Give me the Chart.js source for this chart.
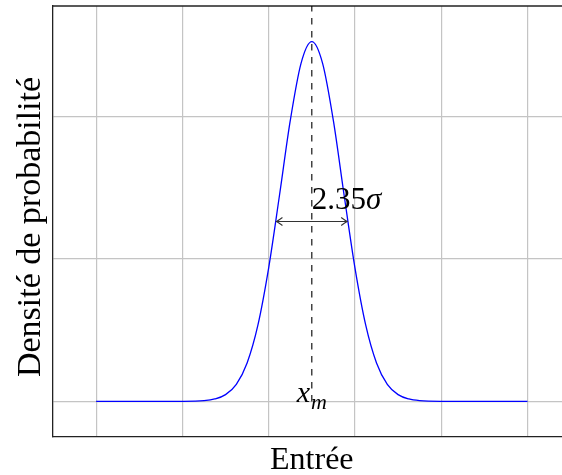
<!DOCTYPE html>
<html>
<head>
    <meta charset="utf-8">
    <title>Densité de probabilité</title>
    <script src="https://cdn.jsdelivr.net/npm/chart.js"></script>
</head>
<style>
    html, body { margin: 0; padding: 0; background: #fff; overflow: hidden; }
    canvas { display: block; }
</style>
<body>
    <canvas id="densityChart" width="562" height="475"></canvas>
    <script>
        // values
        const xValues = [-5, -4, -3, -2.5, -2.25, -2, -1.75, -1.5, -1.25, -1, -0.75, -0.5, -0.25,
                         0, 0.25, 0.5, 0.75, 1, 1.25, 1.5, 1.75, 2, 2.25, 2.5, 3, 4, 5];
        const densityValues = [0, 0, 0.0001, 0.002, 0.0067, 0.019, 0.048, 0.108, 0.214, 0.375, 0.578, 0.788, 0.949,
                               1.01, 0.949, 0.788, 0.578, 0.375, 0.214, 0.108, 0.048, 0.019, 0.0067, 0.002, 0.0001, 0, 0];
        const xTicks = [-5, -3, -1, 1, 3, 5];
        const yTicks = [0, 0.4, 0.8];
        const meanX = 0;
        const fwhmEnds = [-0.82, 0.82];
        const halfMax = 0.505;

        const serif = '"Liberation Serif", "Times New Roman", serif';

        const annotate = {
            id: 'annotate',
            afterDatasetsDraw(chart) {
                const { ctx, chartArea: a, scales: { x, y } } = chart;
                ctx.save();

                // top frame line
                ctx.strokeStyle = '#222';
                ctx.lineWidth = 1.3;
                ctx.beginPath();
                ctx.moveTo(a.left, a.top);
                ctx.lineTo(a.right, a.top);
                ctx.stroke();

                // dashed line at the mean
                const px = x.getPixelForValue(meanX);
                const base = y.getPixelForValue(0);
                ctx.strokeStyle = '#000';
                ctx.lineWidth = 1.1;
                ctx.setLineDash([6.5, 6.5]);
                ctx.beginPath();
                ctx.moveTo(px, base);
                ctx.lineTo(px, a.top);
                ctx.stroke();
                ctx.setLineDash([]);

                // width arrow
                const ay = y.getPixelForValue(halfMax);
                const x1 = x.getPixelForValue(fwhmEnds[0]);
                const x2 = x.getPixelForValue(fwhmEnds[1]);
                ctx.strokeStyle = '#333';
                ctx.lineWidth = 1.1;
                ctx.beginPath();
                ctx.moveTo(x1, ay);
                ctx.lineTo(x2, ay);
                ctx.moveTo(x1 + 6, ay - 4);
                ctx.quadraticCurveTo(x1 + 2, ay - 1, x1, ay);
                ctx.quadraticCurveTo(x1 + 2, ay + 1, x1 + 6, ay + 4);
                ctx.moveTo(x2 - 6, ay - 4);
                ctx.quadraticCurveTo(x2 - 2, ay - 1, x2, ay);
                ctx.quadraticCurveTo(x2 - 2, ay + 1, x2 - 6, ay + 4);
                ctx.stroke();

                // labels
                ctx.fillStyle = '#000';
                ctx.textBaseline = 'alphabetic';
                ctx.textAlign = 'left';
                ctx.font = '31px ' + serif;
                const num = '2.35';
                const numW = ctx.measureText(num).width;
                ctx.fillText(num, px, ay - 12.5);
                ctx.font = 'italic 31px ' + serif;
                ctx.fillText('σ', px + numW, ay - 12.5);

                ctx.font = 'italic 30px ' + serif;
                const xw = ctx.measureText('x').width;
                ctx.font = 'italic 22px ' + serif;
                const mw = ctx.measureText('m').width;
                const sx = px - (xw + mw + 1) / 2;
                ctx.font = 'italic 30px ' + serif;
                ctx.fillText('x', sx, base + 1);
                ctx.font = 'italic 22px ' + serif;
                ctx.fillText('m', sx + xw + 1, base + 8);

                ctx.textAlign = 'center';
                ctx.font = '32px ' + serif;
                ctx.fillText('Entrée', px, 469);

                ctx.translate(39.5, 227);
                ctx.rotate(-Math.PI / 2);
                ctx.font = '34px ' + serif;
                ctx.fillText('Densité de probabilité', 0, 0);

                ctx.restore();
            }
        };

        const ctx = document.getElementById('densityChart').getContext('2d');
        const chart = new Chart(ctx, {
            type: 'line',
            data: {
                datasets: [{
                    data: xValues.map((v, i) => ({ x: v, y: densityValues[i] })),
                    borderColor: '#0000ff',
                    borderWidth: 1.3,
                    pointRadius: 0,
                    fill: false,
                    cubicInterpolationMode: 'monotone'
                }]
            },
            options: {
                responsive: false,
                devicePixelRatio: 1,
                animation: false,
                layout: { padding: { left: 53, top: 6, right: 0, bottom: 38 } },
                plugins: {
                    legend: { display: false },
                    tooltip: { enabled: false }
                },
                scales: {
                    x: {
                        type: 'linear',
                        min: -6,
                        max: 5.8,
                        afterBuildTicks: (scale) => { scale.ticks = xTicks.map(v => ({ value: v })); },
                        ticks: { display: false },
                        grid: { color: '#c4c4c4', lineWidth: 1.2, drawTicks: false },
                        border: { display: true, color: '#222', width: 1.3 }
                    },
                    y: {
                        min: -0.1,
                        max: 1.11,
                        afterBuildTicks: (scale) => { scale.ticks = yTicks.map(v => ({ value: v })); },
                        ticks: { display: false },
                        grid: { color: '#c4c4c4', lineWidth: 1.2, drawTicks: false },
                        border: { display: true, color: '#222', width: 1.3 }
                    }
                }
            },
            plugins: [annotate]
        });
    </script>
</body>
</html>
